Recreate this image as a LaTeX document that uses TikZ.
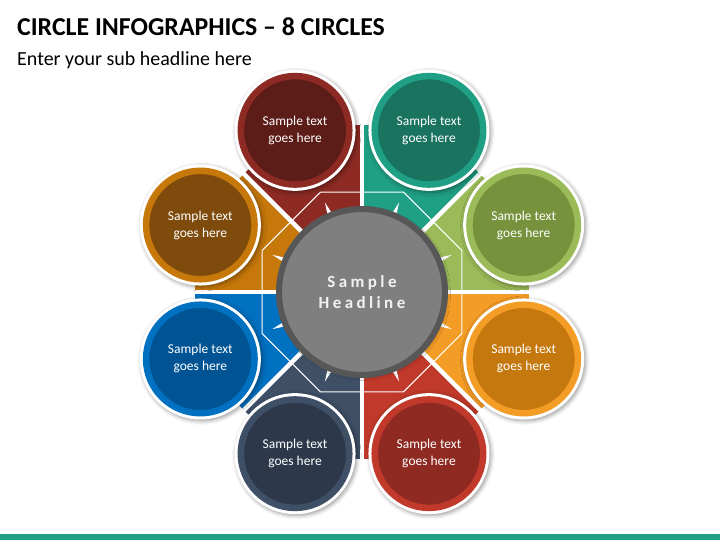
\documentclass[tikz,border=0pt]{standalone}
\usepackage{fontspec}
\setmainfont{Carlito}
\newfontfamily\thua[LetterSpace=20]{Carlito}
\usetikzlibrary{shadows.blur}
\definecolor{xanhla}{HTML}{9BBB59}\definecolor{xanhlad}{HTML}{76923C}
\definecolor{ngoc}{HTML}{1FA084}\definecolor{ngocd}{HTML}{19735F}
\definecolor{do}{HTML}{8C2A23}\definecolor{dod}{HTML}{5C1C18}
\definecolor{vang}{HTML}{C6780A}\definecolor{vangd}{HTML}{7E4B0C}
\definecolor{lam}{HTML}{0070C0}\definecolor{lamd}{HTML}{005494}
\definecolor{chamb}{HTML}{3E4F66}\definecolor{chambd}{HTML}{2D394B}
\definecolor{son}{HTML}{C0392B}\definecolor{sond}{HTML}{8E2A22}
\definecolor{cam}{HTML}{F39C26}\definecolor{camd}{HTML}{C5780E}
\definecolor{xam}{HTML}{7F7F7F}\definecolor{xamd}{HTML}{575757}
\definecolor{vach}{HTML}{22A085}
\begin{document}
\begin{tikzpicture}[x=1pt,y=1pt,line join=round,line cap=round,
bong/.style={blur shadow={shadow xshift=1.5pt,shadow yshift=-1.5pt,shadow blur radius=4pt,shadow opacity=40}},
nut/.style={circle,line width=6.5pt,minimum size=108.5pt,inner sep=0pt,text=white,align=center,font=\fontsize{13.5}{17}\selectfont}]
\useasboundingbox (0,0) rectangle (720,540);
\fill[vach] (0,0) rectangle (720,6);
\node[anchor=base west,inner sep=0pt,font=\bfseries\fontsize{25.8}{30}\selectfont] (T) at (17,504) {CIRCLE INFOGRAPHICS – 8 CIRCLES};
\node[anchor=base west,inner sep=0pt,font=\fontsize{20}{24}\selectfont] (S) at (17,474) {Enter your sub headline here};
\begin{scope}[shift={(362,248)}]
\foreach \mau/\dam [count=\i from 0] in {xanhla/xanhlad,ngoc/ngocd,do/dod,vang/vangd,lam/lamd,chamb/chambd,son/sond,cam/camd}{
\pgfmathsetmacro{\goc}{45*\i}
\fill[\mau] (0,0)--(\goc:167) arc[start angle=\goc,delta angle=45,radius=167]--cycle;
}
\foreach \goc in {0,45,...,315}{\draw[white,line width=4.5pt,line cap=butt] (0,0)--(\goc:168);}
\draw[white,line width=1pt] (22.5:108.2) \foreach \goc in {67.5,112.5,...,337.5}{--(\goc:108.2)}--cycle;
\foreach \goc in {22.5,67.5,...,337.5}{\fill[white] ({\goc+1.6}:84)--(\goc:97)--({\goc-1.6}:84)--cycle;}
\node[circle,fill=xam,draw=xamd,line width=6pt,minimum size=166pt,bong,text=white!95!black,align=center,font=\thua\bfseries\fontsize{17}{21.5}\selectfont] (O) at (0,0) {Sample\\Headline};
\foreach \mau/\dam [count=\i from 0] in {xanhla/xanhlad,ngoc/ngocd,do/dod,vang/vangd,lam/lamd,chamb/chambd,son/sond,cam/camd}{
\pgfmathsetmacro{\goc}{45*\i+22.5}
\fill[white,bong] (\goc:175) circle(60.5);
\node[nut,fill=\dam,draw=\mau] (A\i) at (\goc:175) {Sample text\\goes here};
}
\end{scope}
\end{tikzpicture}
\end{document}
